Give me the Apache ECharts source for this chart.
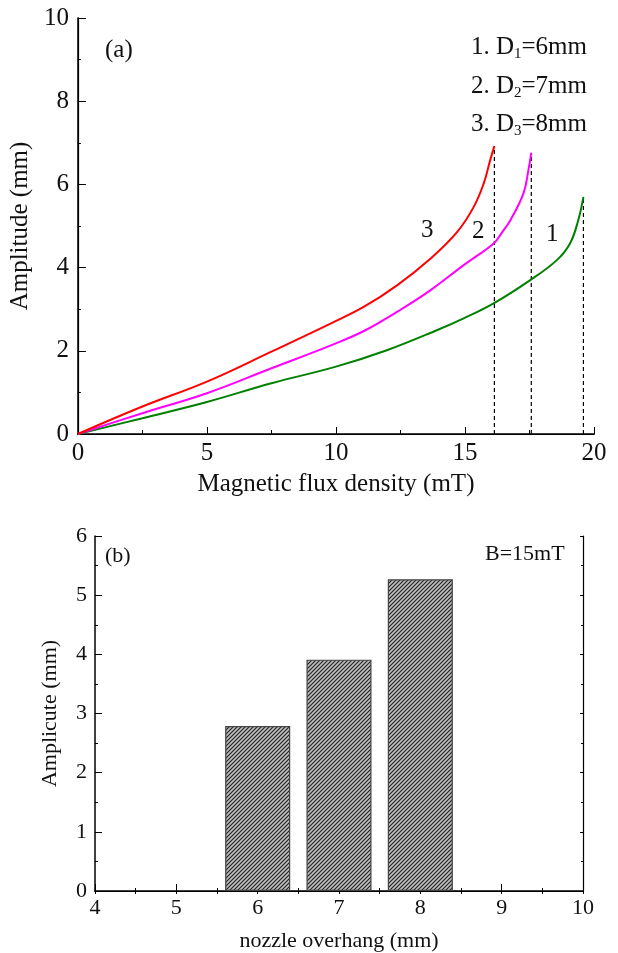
<!DOCTYPE html>
<html>
<head>
<meta charset="utf-8">
<script src="https://cdn.jsdelivr.net/npm/echarts@6/dist/echarts.min.js"></script>
<style>
html,body{margin:0;padding:0;background:#fff;}
#main{width:618px;height:953px;}
</style>
</head>
<body>
<div id="main"></div>
<script>
// ---- Data: panel (a) ----
const curve3X = [0, 2.5, 5, 7.5, 9.81, 11.09, 12.38, 13.67, 14.70, 15.34, 15.73, 15.98, 16.14];
const curve3Y = [0, 0.66, 1.26, 1.98, 2.66, 3.06, 3.58, 4.22, 4.86, 5.46, 6.03, 6.59, 6.92];
const curve2X = [0, 2.5, 5, 7.5, 10, 11.16, 12.38, 13.67, 14.95, 16.11, 16.45, 16.76, 17.27, 17.46, 17.57];
const curve2Y = [0, 0.50, 0.98, 1.58, 2.18, 2.50, 2.94, 3.46, 4.06, 4.58, 4.86, 5.14, 5.79, 6.35, 6.76];
const curve1X = [0, 2.5, 5, 7.5, 10, 12, 13.93, 14.95, 16.11, 17.53, 18.56, 19.07, 19.39, 19.59];
const curve1Y = [0, 0.38, 0.77, 1.22, 1.62, 2.02, 2.50, 2.78, 3.14, 3.70, 4.18, 4.58, 5.14, 5.70];
const legendLines = ['1. D{s|1}=6mm', '2. D{s|2}=7mm', '3. D{s|3}=8mm'];
const curveLabels = ['3', '2', '1'];

// ---- Data: panel (b) ----
const overhang = [6, 7, 8];
const amplitudeB = [2.79, 3.91, 5.27];
const barTickLabels = ['4', '5', '6', '7', '8', '9', '10'];

const FONT = '"Liberation Serif", "Times New Roman", serif';
const chart = echarts.init(document.getElementById('main'), null, {renderer: 'canvas'});

function pairs(xs, ys) { return xs.map((x, i) => [x, ys[i]]); }

// hatch pattern
const pat = document.createElement('canvas');
pat.width = 4; pat.height = 4;
(function () {
  const c = pat.getContext('2d');
  c.fillStyle = '#bdbdbd';
  c.fillRect(0, 0, 4, 4);
  c.strokeStyle = '#222';
  c.lineWidth = 1.1;
  c.beginPath();
  c.moveTo(-1, 5); c.lineTo(5, -1);
  c.moveTo(-1, 1); c.lineTo(1, -1);
  c.moveTo(3, 5); c.lineTo(5, 3);
  c.stroke();
})();

const grids = [
  {left: 76, top: 18, width: 518, height: 416},
  {left: 95, top: 536, width: 488, height: 357}
];
const barW = grids[1].width / 6 * 0.8;

const axisLine = {show: true, lineStyle: {color: '#000', width: 1.5}};
const labelA = {fontFamily: FONT, fontSize: 25, color: '#111'};
const labelB = {fontFamily: FONT, fontSize: 22, color: '#111'};

function curveSeries(xs, ys, color) {
  return {
    type: 'line', xAxisIndex: 0, yAxisIndex: 0,
    data: pairs(xs, ys), smooth: 0.4,
    showSymbol: false, symbol: 'none',
    lineStyle: {color: color, width: 2}, z: 3, silent: true
  };
}
function dashSeries(xs, ys) {
  const x = xs[xs.length - 1], y = ys[ys.length - 1];
  return {
    type: 'line', xAxisIndex: 0, yAxisIndex: 0,
    data: [[x, 0], [x, y]], showSymbol: false, symbol: 'none',
    lineStyle: {color: '#000', width: 1.2, type: [4, 3]}, z: 2, silent: true
  };
}

const option = {
  animation: false,
  backgroundColor: '#fff',
  grid: grids,
  xAxis: [
    {gridIndex: 0, type: 'value', min: 0, max: 20, interval: 5,
     axisLine: axisLine, splitLine: {show: false},
     axisTick: {inside: true, length: 7, lineStyle: {color: '#000'}},
     minorTick: {show: true, splitNumber: 2, length: 4, lineStyle: {color: '#000'}},
     axisLabel: Object.assign({margin: 7}, labelA),
     name: 'Magnetic flux density (mT)', nameLocation: 'middle', nameGap: 38,
     nameTextStyle: {fontFamily: FONT, fontSize: 25, color: '#111'}},
    {gridIndex: 0, type: 'value', min: 0, max: 20, position: 'top',
     axisLine: {show: true, lineStyle: {color: '#000', width: 1.2}},
     axisTick: {show: false}, axisLabel: {show: false}, splitLine: {show: false}},
    {gridIndex: 1, type: 'value', min: 4, max: 10, interval: 1,
     axisLine: axisLine, splitLine: {show: false},
     axisTick: {inside: true, length: 7, lineStyle: {color: '#000'}},
     minorTick: {show: true, splitNumber: 2, length: 3, lineStyle: {color: '#000'}},
     axisLabel: Object.assign({margin: 6, formatter: (v) => barTickLabels[v - 4]}, labelB),
     name: 'nozzle overhang (mm)', nameLocation: 'middle', nameGap: 39,
     nameTextStyle: {fontFamily: FONT, fontSize: 22, color: '#111'}},
    {gridIndex: 1, type: 'value', min: 4, max: 10, interval: 1, position: 'top',
     axisLine: {show: true, lineStyle: {color: '#000', width: 1.2}},
     axisTick: {inside: true, length: 3, lineStyle: {color: '#000'}},
     minorTick: {show: true, splitNumber: 2, length: 3, lineStyle: {color: '#000'}},
     axisLabel: {show: false}, splitLine: {show: false}}
  ],
  yAxis: [
    {gridIndex: 0, type: 'value', min: 0, max: 10, interval: 2,
     axisLine: axisLine, splitLine: {show: false},
     axisTick: {inside: true, length: 8, lineStyle: {color: '#000'}},
     minorTick: {show: true, splitNumber: 2, length: 3, lineStyle: {color: '#000'}},
     axisLabel: Object.assign({margin: 9}, labelA),
     name: 'Amplitude (mm)', nameLocation: 'middle', nameGap: 33, nameRotate: 90,
     nameTextStyle: {fontFamily: FONT, fontSize: 25, color: '#111'}},
    {gridIndex: 0, type: 'value', min: 0, max: 10, position: 'right',
     axisLine: {show: true, lineStyle: {color: '#000', width: 1.2}},
     axisTick: {show: false}, axisLabel: {show: false}, splitLine: {show: false}},
    {gridIndex: 1, type: 'value', min: 0, max: 6, interval: 1,
     axisLine: axisLine, splitLine: {show: false},
     axisTick: {inside: true, length: 7, lineStyle: {color: '#000'}},
     minorTick: {show: true, splitNumber: 2, length: 3, lineStyle: {color: '#000'}},
     axisLabel: Object.assign({margin: 8}, labelB),
     name: 'Amplicute (mm)', nameLocation: 'middle', nameGap: 34, nameRotate: 90,
     nameTextStyle: {fontFamily: FONT, fontSize: 22, color: '#111'}},
    {gridIndex: 1, type: 'value', min: 0, max: 6, interval: 1, position: 'right',
     axisLine: {show: true, lineStyle: {color: '#000', width: 1.2}},
     axisTick: {inside: true, length: 3, lineStyle: {color: '#000'}},
     minorTick: {show: true, splitNumber: 2, length: 2, lineStyle: {color: '#000'}},
     axisLabel: {show: false}, splitLine: {show: false}}
  ],
  series: [
    curveSeries(curve1X, curve1Y, '#008000'),
    curveSeries(curve2X, curve2Y, '#ff00ff'),
    curveSeries(curve3X, curve3Y, '#ff0000'),
    dashSeries(curve3X, curve3Y),
    dashSeries(curve2X, curve2Y),
    dashSeries(curve1X, curve1Y),
    {
      type: 'bar', xAxisIndex: 2, yAxisIndex: 2,
      data: pairs(overhang, amplitudeB), barWidth: barW,
      itemStyle: {color: {image: pat, repeat: 'repeat'}, borderColor: '#444', borderWidth: 1.2},
      silent: true, z: 1
    }
  ],
  graphic: [
    {type: 'text', left: 105, top: 38, style: {text: '(a)', font: '25px ' + FONT, fill: '#111'}},
    {type: 'text', left: 105, top: 545, style: {text: '(b)', font: '22px ' + FONT, fill: '#111'}},
    {type: 'text', left: 485, top: 543, style: {text: 'B=15mT', font: '22px ' + FONT, fill: '#111'}},
    {type: 'text', left: 421, top: 218, style: {text: curveLabels[0], font: '25px ' + FONT, fill: '#111'}},
    {type: 'text', left: 472, top: 219, style: {text: curveLabels[1], font: '25px ' + FONT, fill: '#111'}},
    {type: 'text', left: 546, top: 222, style: {text: curveLabels[2], font: '25px ' + FONT, fill: '#111'}}
  ].concat(legendLines.map((t, i) => ({
    type: 'text', right: 31, top: 35 + i * 38.5,
    style: {
      text: t, fontFamily: FONT, fontSize: 25, fill: '#111',
      rich: {s: {fontFamily: FONT, fontSize: 15, fill: '#111', padding: [14, 0, 0, 0]}}
    }
  })))
};
chart.setOption(option);
</script>
</body>
</html>
